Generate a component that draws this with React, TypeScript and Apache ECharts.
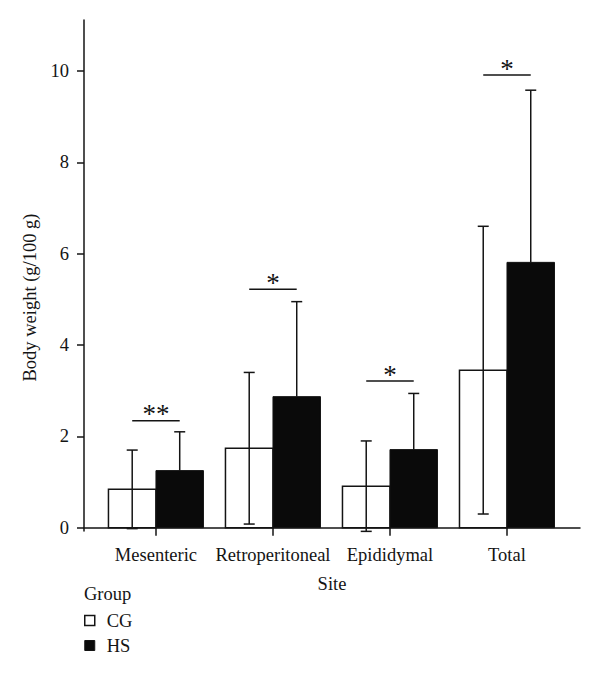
import React, { useEffect, useRef } from "react";
import * as echarts from "echarts";

const categories = ["Mesenteric", "Retroperitoneal", "Epididymal", "Total"];
const groups = ["CG", "HS"];
const cgMean = [0.84, 1.74, 0.91, 3.45];
const cgSD = [0.86, 1.66, 0.99, 3.15];
const hsMean = [1.25, 2.87, 1.71, 5.81];
const hsSD = [0.85, 2.08, 1.23, 3.77];
const sigHeight = [2.34, 5.22, 3.21, 9.91];
const sigLabel = ["**", "*", "*", "*"];
const yTicks = [0, 2, 4, 6, 8, 10];
const catPositions = [1, 2, 3, 4];

const FONT = "Liberation Serif";
const INK = "#141414";
const BAR_W = 0.406;
const CAP = 5.5;

export default function App() {
  const ref = useRef<HTMLDivElement>(null);
  useEffect(() => {
    document.body.style.margin = "0";
    if (!ref.current) return;
    const chart = echarts.init(ref.current, null, { renderer: "svg" });

    const cgData = categories.map((_, i) => [catPositions[i], cgMean[i], cgSD[i]]);
    const hsData = categories.map((_, i) => [catPositions[i], hsMean[i], hsSD[i]]);
    const sigData = categories.map((_, i) => [catPositions[i], sigHeight[i], i]);

    const lineStyle = { stroke: INK, lineWidth: 1.5 };

    const renderCG = (params: any, api: any) => {
      const x = api.value(0), m = api.value(1), sd = api.value(2);
      const p0 = api.coord([x, 0]);
      const pt = api.coord([x, m]);
      const w = api.size([BAR_W, 0])[0];
      const ex = p0[0] - w / 2;
      const hi = api.coord([x, m + sd])[1];
      const lo = api.coord([x, m - sd])[1];
      return {
        type: "group",
        children: [
          { type: "rect", shape: { x: p0[0] - w, y: pt[1], width: w, height: p0[1] - pt[1] }, style: { fill: "#ffffff", stroke: INK, lineWidth: 1.5 } },
          { type: "line", shape: { x1: ex, y1: lo, x2: ex, y2: hi }, style: lineStyle },
          { type: "line", shape: { x1: ex - CAP, y1: hi, x2: ex + CAP, y2: hi }, style: lineStyle },
          { type: "line", shape: { x1: ex - CAP, y1: lo, x2: ex + CAP, y2: lo }, style: lineStyle },
        ],
      };
    };

    const renderHS = (params: any, api: any) => {
      const x = api.value(0), m = api.value(1), sd = api.value(2);
      const p0 = api.coord([x, 0]);
      const pt = api.coord([x, m]);
      const w = api.size([BAR_W, 0])[0];
      const ex = p0[0] + w / 2;
      const hi = api.coord([x, m + sd])[1];
      return {
        type: "group",
        children: [
          { type: "rect", shape: { x: p0[0], y: pt[1], width: w, height: p0[1] - pt[1] }, style: { fill: "#0a0a0a", stroke: INK, lineWidth: 1 } },
          { type: "line", shape: { x1: ex, y1: pt[1], x2: ex, y2: hi }, style: lineStyle },
          { type: "line", shape: { x1: ex - CAP, y1: hi, x2: ex + CAP, y2: hi }, style: lineStyle },
        ],
      };
    };

    const renderSig = (params: any, api: any) => {
      const x = api.value(0), h = api.value(1), idx = api.value(2);
      const p = api.coord([x, h]);
      const w = api.size([BAR_W, 0])[0];
      return {
        type: "group",
        children: [
          { type: "line", shape: { x1: p[0] - w / 2, y1: p[1], x2: p[0] + w / 2, y2: p[1] }, style: lineStyle },
          {
            type: "text",
            x: p[0],
            y: p[1] + 7,
            style: { text: sigLabel[idx], fontFamily: FONT, fontSize: 27, fill: INK, align: "center", verticalAlign: "bottom" },
          },
        ],
      };
    };

    chart.setOption({
      animation: false,
      textStyle: { fontFamily: FONT, color: INK },
      title: {
        text: "Group",
        left: 84,
        top: 584,
        padding: 0,
        textStyle: { fontFamily: FONT, fontSize: 18.5, fontWeight: "normal", color: INK },
      },
      legend: {
        orient: "vertical",
        left: 84,
        top: 611,
        padding: 0,
        itemWidth: 10,
        itemHeight: 10,
        itemGap: 6,
        selectedMode: false,
        textStyle: { fontFamily: FONT, fontSize: 18.5, color: INK, padding: [0, 0, 0, 7] },
        data: [
          { name: groups[0], icon: "rect", itemStyle: { color: "#ffffff", borderColor: INK, borderWidth: 1.5 } },
          { name: groups[1], icon: "rect", itemStyle: { color: "#0a0a0a", borderColor: INK, borderWidth: 1 } },
        ],
      },
      grid: { left: 84, right: 20, top: 20, bottom: 143, containLabel: false, outerBoundsMode: "none" },
      xAxis: {
        type: "value",
        min: 0.385,
        max: 4.624,
        name: "Site",
        nameLocation: "middle",
        nameGap: 43,
        nameTextStyle: { fontFamily: FONT, fontSize: 18.5, color: INK },
        axisLine: { show: true, lineStyle: { color: INK, width: 1.5 } },
        axisTick: { show: true, length: 8, customValues: catPositions, lineStyle: { color: INK, width: 1.5 } },
        axisLabel: {
          customValues: catPositions,
          margin: 14,
          fontFamily: FONT,
          fontSize: 18.5,
          color: INK,
          formatter: (v: number) => categories[Math.round(v) - 1] ?? "",
        },
        splitLine: { show: false },
      },
      yAxis: {
        type: "value",
        min: -0.072,
        max: 11.117,
        name: "Body weight (g/100 g)",
        nameLocation: "middle",
        nameGap: 44,
        nameTextStyle: { fontFamily: FONT, fontSize: 18.5, color: INK, padding: [0, 44, 0, 0] },
        axisLine: { show: true, lineStyle: { color: INK, width: 1.5 } },
        axisTick: { show: true, length: 7, customValues: yTicks, lineStyle: { color: INK, width: 1.5 } },
        axisLabel: { customValues: yTicks, margin: 15, fontFamily: FONT, fontSize: 18.5, color: INK },
        splitLine: { show: false },
      },
      series: [
        { name: groups[0], type: "custom", renderItem: renderCG, data: cgData, encode: { x: 0, y: 1 }, clip: false, itemStyle: { color: "#ffffff", borderColor: INK } },
        { name: groups[1], type: "custom", renderItem: renderHS, data: hsData, encode: { x: 0, y: 1 }, clip: false, itemStyle: { color: "#0a0a0a" } },
        { name: "sig", type: "custom", renderItem: renderSig, data: sigData, encode: { x: 0, y: 1 }, clip: false },
      ],
    });
    return () => chart.dispose();
  }, []);
  return <div ref={ref} style={{ width: 600, height: 674 }} />;
}
